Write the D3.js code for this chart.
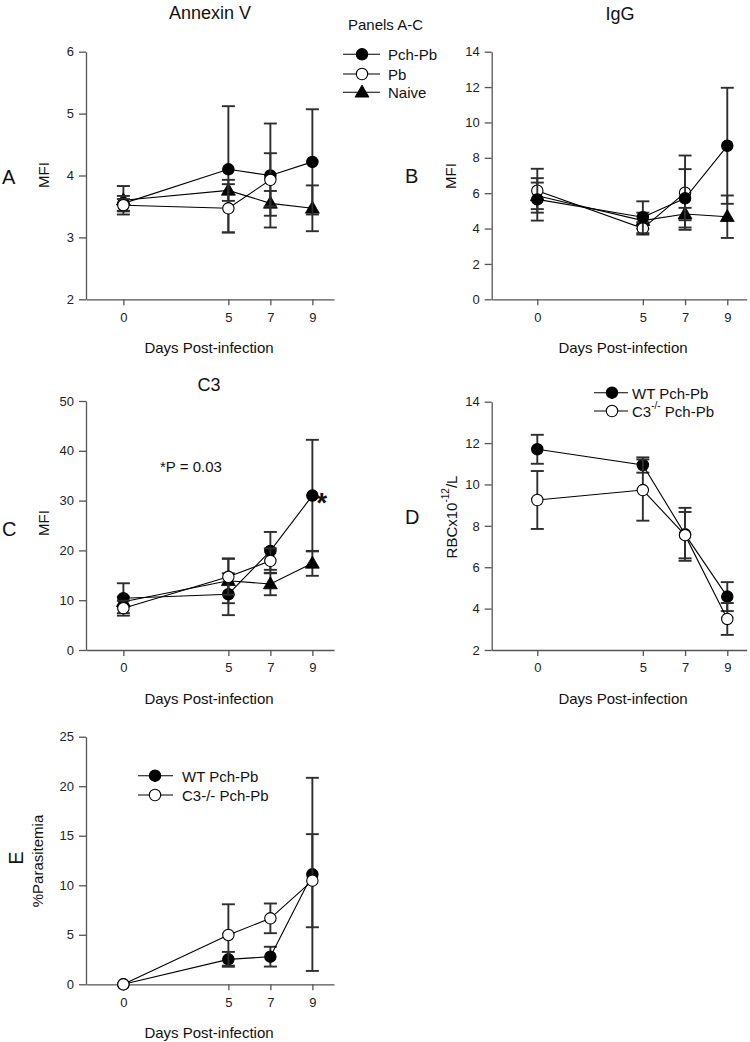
<!DOCTYPE html>
<html>
<head>
<meta charset="utf-8">
<script src="https://cdn.jsdelivr.net/npm/d3@7"></script>
<style>
  html, body { margin: 0; padding: 0; background: #fff; }
  svg { display: block; font-family: "Liberation Sans", Arial, Helvetica, sans-serif; }
</style>
</head>
<body>
<script>
// ---------------- DATA ----------------
const days = [0, 5, 7, 9];
const xTickLabels = ["0", "5", "7", "9"];

// Panel A – Annexin V (MFI)
const annexinPchPb = [3.55, 4.10, 4.00, 4.22];
const annexinPchPbErr = [0.12, 1.02, 0.84, 0.85];
const annexinPb = [3.52, 3.47, 3.93];
const annexinPbErr = [0.10, 0.39, 0.43];
const annexinNaive = [3.60, 3.76, 3.55, 3.47];
const annexinNaiveErr = [0.23, 0.17, 0.20, 0.37];
const annexinTicks = [2, 3, 4, 5, 6];

// Panel B – IgG (MFI)
const iggPchPb = [5.65, 4.64, 5.71, 8.68];
const iggPchPbErr = [1.20, 0.90, 1.65, 3.28];
const iggPb = [6.14, 4.01, 6.03];
const iggPbErr = [1.24, 0.35, 2.10];
const iggNaive = [5.85, 4.45, 4.82, 4.67];
const iggNaiveErr = [0.75, 0.45, 0.35, 1.20];
const iggTicks = [0, 2, 4, 6, 8, 10, 12, 14];

// Panel C – C3 (MFI)
const c3PchPb = [10.4, 11.2, 19.9, 31.0];
const c3PchPbErr = [3.0, 4.2, 3.8, 11.2];
const c3Pb = [8.4, 14.7, 17.9];
const c3PbErr = [1.5, 3.6, 2.5];
const c3Naive = [9.7, 13.9, 13.25, 17.4];
const c3NaiveErr = [1.0, 4.5, 2.25, 2.5];
const c3Ticks = [0, 10, 20, 30, 40, 50];

// Panel D – RBC
const rbcWT = [11.70, 10.94, 7.59, 4.58];
const rbcWTErr = [0.70, 0.37, 1.28, 0.70];
const rbcC3 = [9.25, 9.73, 7.55, 3.50];
const rbcC3Err = [1.40, 1.48, 1.12, 0.77];
const rbcTicks = [2, 4, 6, 8, 10, 12, 14];

// Panel E – % Parasitemia
const paraWT = [0, 2.52, 2.79, 11.1];
const paraWTErr = [0, 0.75, 1.00, 9.75];
const paraC3 = [0, 4.98, 6.66, 10.46];
const paraC3Err = [0, 3.10, 1.50, 4.70];
const paraTicks = [0, 5, 10, 15, 20, 25];

const legendABC = ["Pch-Pb", "Pb", "Naive"];

// ---------------- DRAWING ----------------
const W = 750, H = 1042;
const svg = d3.select("body").append("svg").attr("width", W).attr("height", H);

const AXIS = "#555";
const ERR = "#2e2e2e";
const FONT_TICK = 13;

function mk(values, errs) {
  return values.map((v, i) => ({ day: days[i], v: v, e: errs[i] }));
}

function drawMarker(g, type, x, y) {
  if (type === "tri") {
    g.append("path")
      .attr("d", d3.symbol(d3.symbolTriangle, 84)())
      .attr("transform", `translate(${x},${y + 0.8})`)
      .attr("fill", "#000").attr("stroke", "#000").attr("stroke-width", 0.8);
  } else {
    g.append("circle").attr("cx", x).attr("cy", y).attr("r", 5.7)
      .attr("fill", type === "filled" ? "#000" : "#fff")
      .attr("stroke", "#000").attr("stroke-width", 1.1);
  }
}

function panel(cfg) {
  const g = svg.append("g");
  const x = d3.scaleLinear().domain(cfg.xDomain).range(cfg.xRange);
  const y = d3.scaleLinear().domain([cfg.yTicks[0], cfg.yTicks[cfg.yTicks.length - 1]]).range(cfg.yRange);

  const yAxis = d3.axisLeft(y).tickValues(cfg.yTicks).tickSize(7).tickSizeOuter(0).tickPadding(5)
    .tickFormat(d3.format("d"));
  const xAxis = d3.axisBottom(x).tickValues(days).tickSize(6).tickSizeOuter(0).tickPadding(7)
    .tickFormat((d, i) => xTickLabels[i]);

  const ga = g.append("g").attr("transform", `translate(${cfg.xRange[0]},0)`).call(yAxis);
  const gb = g.append("g").attr("transform", `translate(0,${cfg.yRange[0]})`).call(xAxis);
  [ga, gb].forEach(a => {
    a.select(".domain").attr("stroke", AXIS).attr("stroke-width", 1.3);
    a.selectAll(".tick line").attr("stroke", AXIS).attr("stroke-width", 1.3);
    a.selectAll(".tick text").attr("fill", "#222").style("font-size", FONT_TICK + "px")
      .style("font-family", '"Liberation Sans", Arial, sans-serif');
  });

  cfg.series.forEach(s => {
    const pts = s.data;
    const sg = g.append("g");
    pts.forEach(p => {
      if (!p.e) return;
      const cx = x(p.day), y1 = y(p.v + p.e), y2 = y(p.v - p.e);
      sg.append("line").attr("x1", cx).attr("x2", cx).attr("y1", y1).attr("y2", y2)
        .attr("stroke", ERR).attr("stroke-width", 1.9);
      [y1, y2].forEach(yy => sg.append("line").attr("x1", cx - 6.5).attr("x2", cx + 6.5)
        .attr("y1", yy).attr("y2", yy).attr("stroke", ERR).attr("stroke-width", 1.9));
    });
    sg.append("path").datum(pts)
      .attr("d", d3.line().x(p => x(p.day)).y(p => y(p.v)))
      .attr("fill", "none").attr("stroke", "#000").attr("stroke-width", 1.1);
    pts.forEach(p => drawMarker(sg, s.type, x(p.day), y(p.v)));
  });

  if (cfg.title) {
    g.append("text").attr("x", cfg.titleX).attr("y", cfg.titleY).attr("text-anchor", "middle")
      .attr("dominant-baseline", "central").style("font-size", "18px").attr("fill", "#111").text(cfg.title);
  }
  g.append("text").attr("x", cfg.xLabelX).attr("y", cfg.yRange[0] + 48).attr("text-anchor", "middle")
    .attr("dominant-baseline", "central").style("font-size", "15px").attr("fill", "#111").text("Days Post-infection");

  const yl = g.append("text").attr("transform", `translate(${cfg.yLabelX},${cfg.yLabelY}) rotate(-90)`)
    .attr("text-anchor", "middle").attr("dominant-baseline", "central")
    .style("font-size", "15px").attr("fill", "#111");
  cfg.yLabel.forEach(part => {
    const t = yl.append("tspan").text(part.t);
    if (part.sup) t.attr("baseline-shift", "super").style("font-size", "10px");
  });

  const lt = g.append("text").attr("dominant-baseline", "central").style("font-size", "20px").attr("fill", "#111")
    .text(cfg.letter);
  if (cfg.letterRotate) {
    lt.attr("text-anchor", "middle").attr("transform", `translate(${cfg.letterX},${cfg.letterY}) rotate(-90)`);
  } else {
    lt.attr("x", cfg.letterX).attr("y", cfg.letterY);
  }
  return { g, x, y };
}

const leftX = { xDomain: [-1.78, 10.03], xRange: [86, 334], xLabelX: 209 };
const rightX = { xDomain: [-2.16, 9.92], xRange: [491.7, 746.7], xLabelX: 623 };

// Panel A
panel(Object.assign({}, leftX, {
  yTicks: annexinTicks, yRange: [299.3, 51.7],
  title: "Annexin V", titleX: 210, titleY: 13,
  yLabel: [{ t: "MFI" }], yLabelX: 43, yLabelY: 175,
  letter: "A", letterX: 2, letterY: 177,
  series: [
    { type: "tri", data: mk(annexinNaive, annexinNaiveErr) },
    { type: "filled", data: mk(annexinPchPb, annexinPchPbErr) },
    { type: "open", data: mk(annexinPb, annexinPbErr) }
  ]
}));

// Panel B
panel(Object.assign({}, rightX, {
  yTicks: iggTicks, yRange: [299.3, 51.7],
  title: "IgG", titleX: 620, titleY: 14,
  yLabel: [{ t: "MFI" }], yLabelX: 450, yLabelY: 176,
  letter: "B", letterX: 405, letterY: 176,
  series: [
    { type: "tri", data: mk(iggNaive, iggNaiveErr) },
    { type: "open", data: mk(iggPb, iggPbErr) },
    { type: "filled", data: mk(iggPchPb, iggPchPbErr) }
  ]
}));

// Panel C
const pc = panel(Object.assign({}, leftX, {
  yTicks: c3Ticks, yRange: [650, 401],
  title: "C3", titleX: 209, titleY: 385,
  yLabel: [{ t: "MFI" }], yLabelX: 43, yLabelY: 523,
  letter: "C", letterX: 2, letterY: 529,
  series: [
    { type: "tri", data: mk(c3Naive, c3NaiveErr) },
    { type: "filled", data: mk(c3PchPb, c3PchPbErr) },
    { type: "open", data: mk(c3Pb, c3PbErr) }
  ]
}));
pc.g.append("text").attr("x", 160).attr("y", 466).attr("dominant-baseline", "central")
  .style("font-size", "15px").attr("fill", "#111").text("*P = 0.03");
pc.g.append("text").attr("x", pc.x(days[3]) + 4).attr("y", pc.y(c3PchPb[3]) + 7).attr("dominant-baseline", "central")
  .style("font-size", "28px").style("font-weight", "bold").attr("fill", "#111").text("*");

// Panel D
panel(Object.assign({}, rightX, {
  yTicks: rbcTicks, yRange: [650, 401.7],
  title: null,
  yLabel: [{ t: "RBCx10" }, { t: "-12", sup: true }, { t: "/L" }], yLabelX: 451, yLabelY: 517,
  letter: "D", letterX: 405, letterY: 517,
  series: [
    { type: "filled", data: mk(rbcWT, rbcWTErr) },
    { type: "open", data: mk(rbcC3, rbcC3Err) }
  ]
}));

// Panel E
panel(Object.assign({}, leftX, {
  yTicks: paraTicks, yRange: [984.3, 736.7],
  title: null,
  yLabel: [{ t: "%Parasitemia" }], yLabelX: 37, yLabelY: 861,
  letter: "E", letterX: 16, letterY: 858, letterRotate: true,
  series: [
    { type: "filled", data: mk(paraWT, paraWTErr) },
    { type: "open", data: mk(paraC3, paraC3Err) }
  ]
}));

// ---------------- LEGENDS ----------------
function legendRow(x1, x2, mx, yy, type, parts, tx) {
  svg.append("line").attr("x1", x1).attr("x2", x2).attr("y1", yy).attr("y2", yy)
    .attr("stroke", "#000").attr("stroke-width", 1.1);
  drawMarker(svg, type, mx, yy);
  const t = svg.append("text").attr("x", tx).attr("y", yy).attr("dominant-baseline", "central")
    .style("font-size", "15px").attr("fill", "#111");
  parts.forEach(p => {
    const s = t.append("tspan").text(p.t);
    if (p.sup) s.attr("baseline-shift", "super").style("font-size", "10px");
  });
}

svg.append("text").attr("x", 348).attr("y", 24).attr("dominant-baseline", "central")
  .style("font-size", "15px").attr("fill", "#111").text("Panels A-C");
const abcTypes = ["filled", "open", "tri"];
const abcY = [54.3, 74, 92.3];
legendABC.forEach((name, i) => legendRow(343, 380, 362, abcY[i], abcTypes[i], [{ t: name }], 388));

legendRow(594, 628, 612, 392.7, "filled", [{ t: "WT Pch-Pb" }], 632);
legendRow(594, 628, 612, 411, "open", [{ t: "C3" }, { t: "-/-", sup: true }, { t: " Pch-Pb" }], 632);

legendRow(138, 173, 155, 775.7, "filled", [{ t: "WT Pch-Pb" }], 182);
legendRow(138, 173, 155, 795, "open", [{ t: "C3-/- Pch-Pb" }], 182);
</script>
</body>
</html>
